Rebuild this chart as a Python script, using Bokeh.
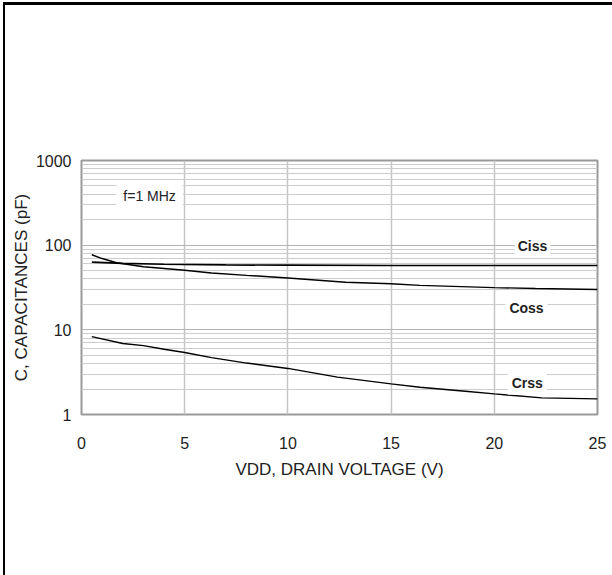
import math
from bokeh.plotting import figure
from bokeh.models import FixedTicker, Label, InlineStyleSheet
from bokeh.embed import file_html
from bokeh.resources import INLINE

# ---- data ----
v_ciss = [0.5, 2, 4, 7, 10, 15, 20, 25]
ciss = [63, 61, 59.5, 58.5, 58, 57.5, 57.5, 57.5]

v_coss = [0.5, 1, 1.7, 3, 5, 6.3, 8, 10, 12.8, 15, 16.4, 20, 22, 25]
coss = [77, 69.5, 62, 55.5, 50.5, 47, 44, 41, 36.5, 35, 33.5, 31.5, 30.8, 30]

v_crss = [0.5, 2, 3, 4, 5, 6.3, 8, 10, 12.4, 15, 16.4, 18.6, 20, 22.3, 25]
crss = [8.3, 6.9, 6.5, 5.9, 5.4, 4.7, 4.05, 3.5, 2.76, 2.3, 2.1, 1.88, 1.75, 1.57, 1.53]

x_ticks = [0, 5, 10, 15, 20, 25]
y_ticks = [1, 10, 100, 1000]
y_minor = [m * d for d in (1, 10, 100) for m in range(2, 10)]

annotations = [
    ("f=1 MHz", 3.3, 376, "normal", 7),
    ("Ciss", 21.85, 97, "bold", 3),
    ("Coss", 21.56, 18.2, "bold", 4),
    ("Crss", 21.6, 2.37, "bold", 4),
]

FONT = "Liberation Sans"

FW, FH = 516, 254
p = figure(frame_width=FW, frame_height=FH, y_axis_type="log",
           x_range=(0, 25), y_range=(1, 1000),
           output_backend="svg", toolbar_location=None,
           min_border_left=86, min_border_top=166,
           min_border_right=12, min_border_bottom=130)
p.styles = {"margin-left": "-5px", "margin-top": "-6px"}

# page frame: thick black top and left edges running off the page
p.stylesheets = [InlineStyleSheet(css=(
    ":host::before { content: ''; position: fixed; left: 3px; top: 2px; "
    "right: -60px; bottom: -60px; border-top: 3px solid #000; "
    "border-left: 2.5px solid #000; pointer-events: none; z-index: 100; }"
))]

p.background_fill_color = "white"
p.border_fill_color = "white"
p.outline_line_color = "#9a9a9a"
p.outline_line_width = 2

# axes
p.xaxis.ticker = FixedTicker(ticks=x_ticks)
p.yaxis.ticker = FixedTicker(ticks=y_ticks, minor_ticks=y_minor)
p.yaxis.major_label_overrides = {t: str(t) for t in y_ticks}
for ax in (p.xaxis[0], p.yaxis[0]):
    ax.axis_line_color = None
    ax.major_tick_line_color = None
    ax.minor_tick_line_color = None
    ax.major_tick_out = 0
    ax.major_tick_in = 0
    ax.minor_tick_out = 0
    ax.minor_tick_in = 0
    ax.major_label_text_font = FONT
    ax.major_label_text_font_size = "16px"
    ax.major_label_text_color = "#222222"
    ax.axis_label_text_font = FONT
    ax.axis_label_text_font_size = "17px"
    ax.axis_label_text_font_style = "normal"
    ax.axis_label_text_color = "#222222"
p.xaxis.major_label_standoff = 22
p.xaxis.axis_label_standoff = 8
p.yaxis.major_label_standoff = 10
p.yaxis.axis_label_standoff = 2
p.xaxis.axis_label = "VDD, DRAIN VOLTAGE (V)"
p.yaxis.axis_label = "C, CAPACITANCES (pF)"

# grids
p.xgrid.grid_line_color = "#c4c4c4"
p.xgrid.grid_line_width = 1.5
p.ygrid.grid_line_color = "#b4b4b4"
p.ygrid.grid_line_width = 1.2
p.ygrid.minor_grid_line_color = "#cdcdcd"
p.ygrid.minor_grid_line_width = 1

# curves
p.line(v_ciss, ciss, line_color="black", line_width=1.7)
p.line(v_coss, coss, line_color="black", line_width=1.4)
p.line(v_crss, crss, line_color="black", line_width=1.4)

for text, x, y, style, pad in annotations:
    p.add_layout(Label(x=x, y=y, text=text, text_font=FONT,
                       text_font_size="14px", text_font_style=style,
                       text_color="#222222",
                       text_align="center", text_baseline="middle",
                       background_fill_color="white", padding=pad))

open("out.html", "w").write(file_html(p, INLINE))
